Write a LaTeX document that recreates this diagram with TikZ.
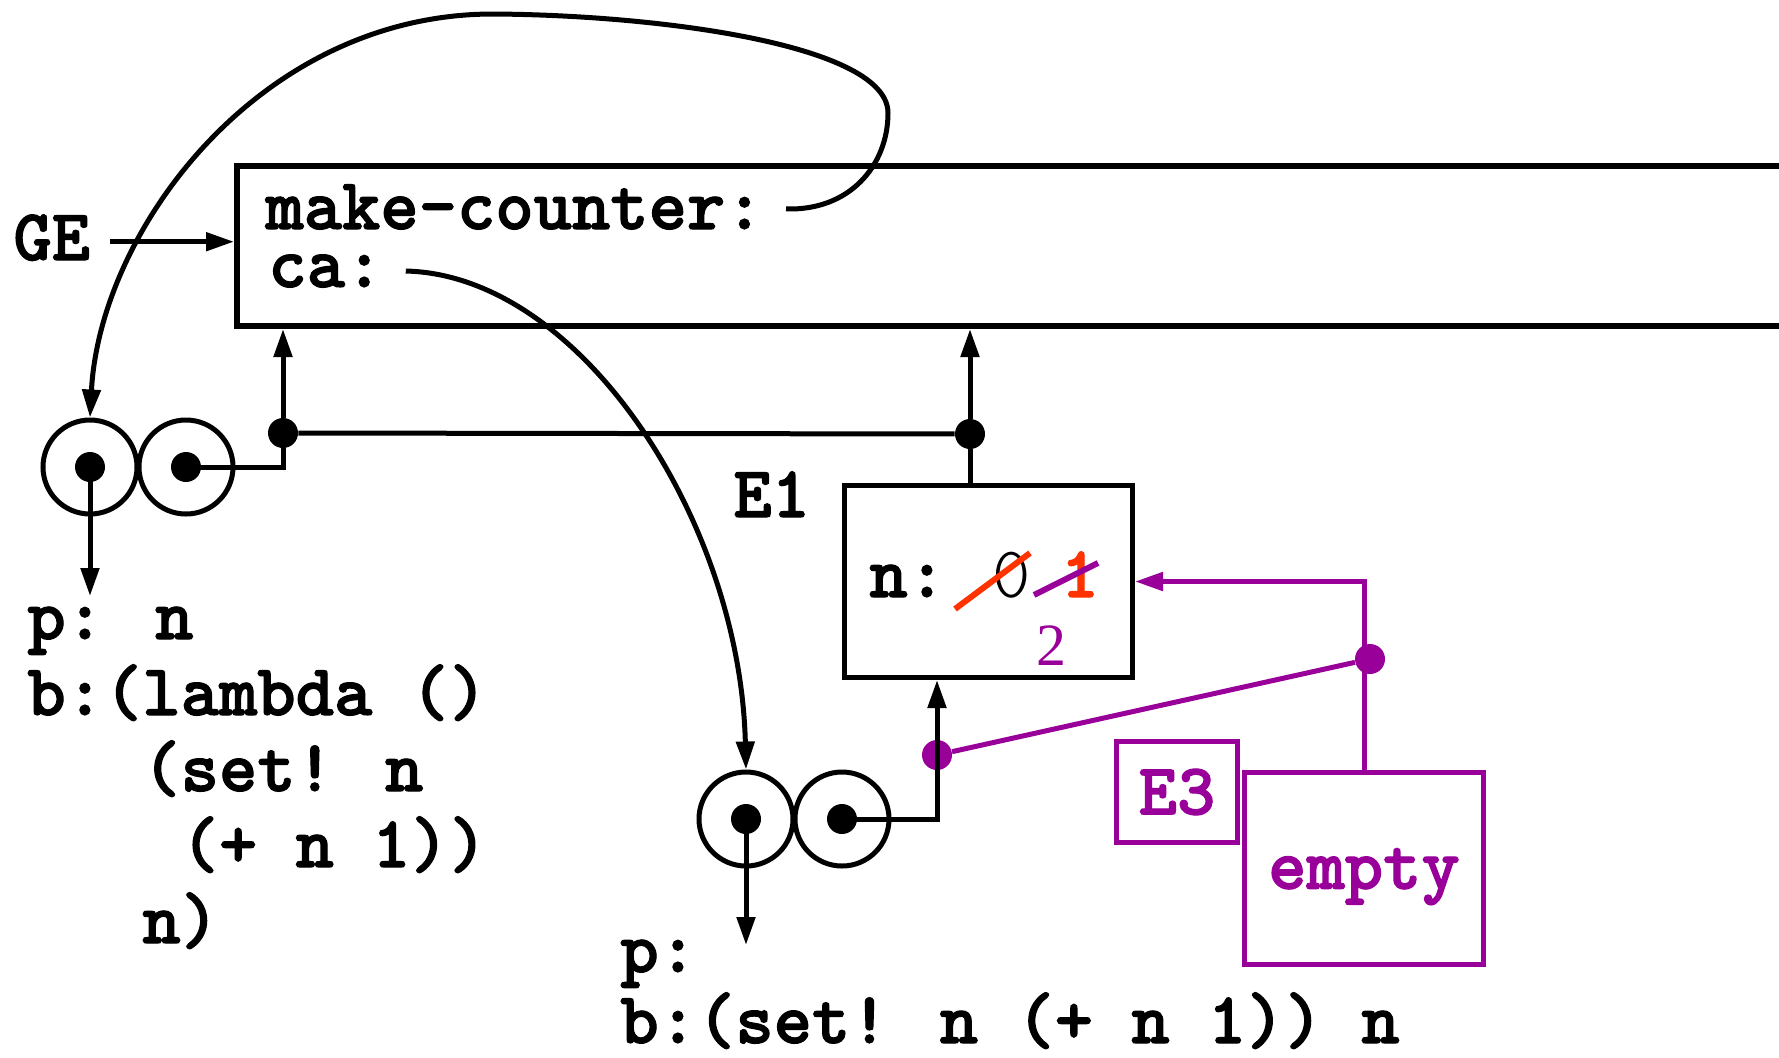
\documentclass[tikz,border=0pt]{standalone}
\usepackage{fontspec}
\setmainfont{Liberation Serif}
\newfontfamily\courfont{lmmonolt10-regular.otf}[BoldFont=lmmonolt10-bold.otf, BoldFeatures={FakeBold=1.6}]
\usepackage{tikz}
\usetikzlibrary{calc}
\usetikzlibrary{arrows.meta}
\definecolor{newenv}{HTML}{990099}
\definecolor{oldval}{HTML}{FF3300}
\tikzset{
  wire/.style={line width=2.5pt},
  arr/.style={wire, ->, >={Stealth[length=14pt,width=9pt,inset=0pt]}},
  src/.style={font=\courfont\bfseries\fontsize{36.5}{44}\selectfont, inner sep=0pt, anchor=base west},
  envbox/.style={draw, line width=3pt, inner sep=0pt, anchor=north west},
  pbox/.style={envbox, draw=newenv, text=newenv, line width=2.5pt, font=\courfont\bfseries\fontsize{36.5}{44}\selectfont},
  cell/.style={circle, draw, line width=2.5pt, minimum size=47pt, inner sep=0pt},
  joint/.style={circle, fill, minimum size=15pt, inner sep=0pt},
}

\begin{document}
\begin{tikzpicture}[x=0.5pt, y=-0.5pt]
\useasboundingbox (0,0) rectangle (1779,1057);

% global environment
\node[envbox, minimum width=800pt, minimum height=80pt] (ge-box) at (234,163) {};
\node[src] (ge) at (13,260) {GE};
\node[src] (mc) at (265,229) {make-counter:};
\node[src] (ca) at (268,287) {ca:};
\coordinate (ge-out) at ([xshift=10pt,yshift=-2pt]ge.east);
\draw[arr] (ge-out) -- (ge-out -| ge-box.west);

% procedure objects
\foreach \nm/\px/\py in {pa/90/467, pb/746/819} {
  \node[cell] (\nm-l) at (\px,\py) {};
  \node[cell] (\nm-r) at (\px+96,\py) {};
  \node[joint] (\nm-lp) at (\nm-l) {};
  \node[joint] (\nm-rp) at (\nm-r) {};
}

% E1
\node[envbox, line width=2.5pt, minimum width=144pt, minimum height=96pt] (e1) at (842,483) {};
\node[src] (e1-tag) at (733,517) {E1};
\node[src] (e1-n) at (869,597) {n: \kern-2.5pt{\mdseries 0} \kern-4pt\textcolor{oldval}{1}};
\node[font=\fontsize{30}{36}\selectfont, text=newenv, inner sep=0pt, anchor=base west] (e1-two) at (1036,665) {2};
\draw[line width=3pt, oldval] (955,609) -- (1030,553);
\draw[line width=3pt, newenv] (1034,595) -- (1098,563);

% environment pointers
\node[joint] (j1) at (283,433) {};
\node[joint] (j2) at (970,434) {};
\draw[wire] (pa-r.center) -| (j1);
\draw[arr] (j1) -- (j1 |- ge-box.south);
\draw[wire] (j1) -- (j2);
\draw[arr] (j2) -- (j2 |- ge-box.south);
\draw[wire] (j2) -- (j2 |- e1.north);

% bindings to procedures
\draw[arr] ($(mc.east)+(22,2)$) .. controls (850,211) and (888,165) .. (888,113)
  .. controls (888,45) and (660,15) .. (493,14)
  .. controls (260,14) and (100,230) .. (pa-l.north);
\draw[arr] ($(ca.east)+(22,0)$) .. controls (580,275) and (740,520) .. (pb-l.north);

% code pointers
\coordinate (pa-tip) at (90,596);
\coordinate (pb-tip) at (746,945);
\draw[arr] (pa-l.center) -- (pa-tip);
\draw[arr] (pb-l.center) -- (pb-tip);

\foreach \ln [count=\i] in {{p: n}, {b:(lambda ()}, {\phantom{xxx}(set! n}, {\phantom{xxxx}(+ n 1))}, {\phantom{xxx}n)}}
  \node[src] (pa-code-\i) at (27,{639+76*(\i-1)}) {\ln};
\node[src] (pb-p) at (620,972) {p:};
\node[src] (pb-b) at (620,1043) {b:(set! n (+ n 1)) n};

% E3
\node[pbox, minimum width=60.5pt, minimum height=50.5pt] (e3-tag) at (1114,739) {E3};
\node[pbox, minimum width=119.5pt, minimum height=96pt, text depth=0pt] (e3) at (1242,770) {empty};
\node[joint, fill=newenv] (jp) at (937,755) {};
\node[joint, fill=newenv] (jq) at (1370,659) {};
\draw[arr] (pb-r.center) -| (jp.center) -- (jp.center |- e1.south);
\draw[wire, newenv] (jp) -- (jq);
\draw[arr, newenv] (e3.north) |- (e1.east);
\end{tikzpicture}
\end{document}
